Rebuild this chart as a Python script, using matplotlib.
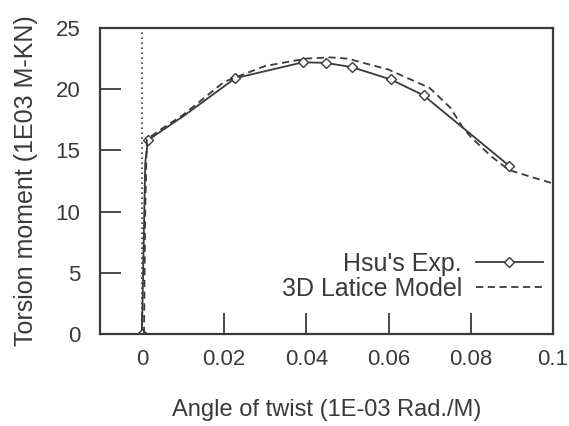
import matplotlib
matplotlib.use("Agg")
import matplotlib.pyplot as plt

# Hsu's experiment
exp_x = [0.0, 0.0008, 0.0015, 0.0105, 0.0227, 0.0392, 0.0448, 0.0511, 0.0605, 0.0685, 0.0893]
exp_y = [0.0, 14.0, 15.85, 17.9, 20.9, 22.2, 22.15, 21.8, 20.8, 19.5, 13.75]
exp_mark = [0, 2, 4, 5, 6, 7, 8, 9, 10]

# 3D lattice model
mod_x = [0.0005, 0.0008, 0.0012, 0.005, 0.01, 0.02, 0.03, 0.04, 0.0459, 0.05, 0.06,
         0.07, 0.075, 0.078, 0.08, 0.085, 0.0893, 0.095, 0.1]
mod_y = [0.0, 10.0, 15.9, 16.8, 17.9, 20.6, 21.9, 22.5, 22.6, 22.5, 21.6,
         20.1, 18.5, 16.9, 16.1, 14.5, 13.4, 12.8, 12.3]

ink = "#3a3a3a"
plt.rcParams['font.family'] = ['Liberation Sans', 'DejaVu Sans']

fig = plt.figure(figsize=(5.69, 4.26), dpi=100)
ax = fig.add_axes([100 / 569, 1 - 334 / 426, 453 / 569, 306 / 426])

ax.axvline(0, color=ink, lw=1.2, ls=(0, (1, 2)))
ax.plot(exp_x, exp_y, color=ink, lw=1.3, marker="D", markersize=5,
        markerfacecolor="white", markeredgecolor=ink, markevery=exp_mark,
        label="Hsu's Exp.")
ax.plot(mod_x, mod_y, color=ink, lw=1.3, ls=(0, (4, 2.5)), label="3D Latice Model")

ax.set_xlim(-0.0102, 0.1)
ax.set_ylim(0, 25)
ax.set_xticks([0, 0.02, 0.04, 0.06, 0.08, 0.1])
ax.set_xticklabels(["0", "0.02", "0.04", "0.06", "0.08", "0.1"])
ax.set_yticks([0, 5, 10, 15, 20, 25])
ax.tick_params(direction="in", length=15, width=1.3, colors=ink, labelsize=16)
ax.tick_params(axis="x", pad=11)
ax.tick_params(axis="y", pad=14)
for s in ax.spines.values():
    s.set_linewidth(1.6)
    s.set_color(ink)

ax.set_xlabel("Angle of twist (1E-03 Rad./M)", fontsize=17, color=ink, labelpad=21)
ax.set_ylabel("Torsion moment (1E03 M-KN)", fontsize=18, color=ink, labelpad=13)

leg = ax.legend(loc="lower right", bbox_to_anchor=(1.0, 0.075), frameon=False,
                markerfirst=False, fontsize=18, handlelength=2.7,
                handletextpad=0.55, labelspacing=0.05, borderaxespad=0)
for t in leg.get_texts():
    t.set_color(ink)

fig.savefig("out.png", dpi=100)
